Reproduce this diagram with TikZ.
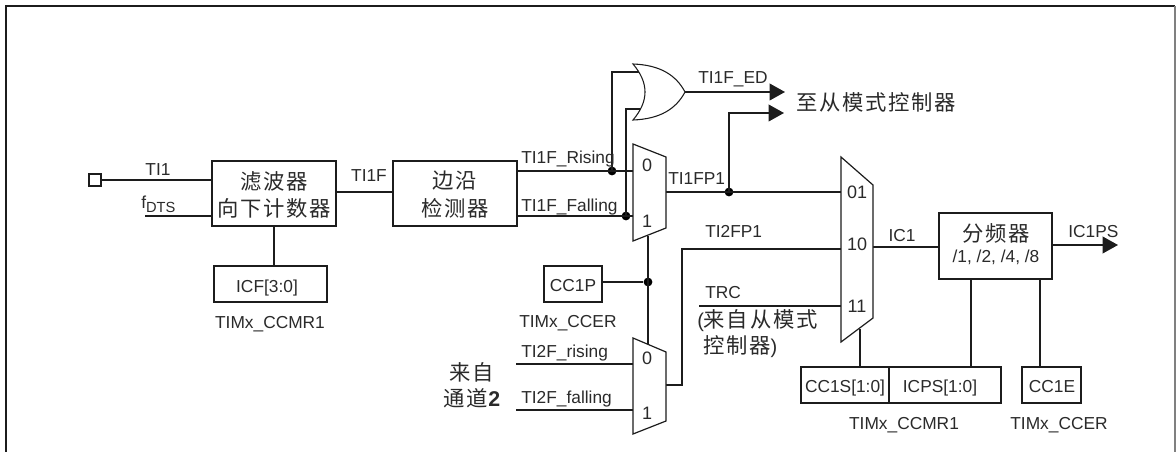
\documentclass[tikz,border=0pt]{standalone}
\usepackage{fontspec}
\setmainfont{Liberation Sans}
\newfontfamily\cjk[LetterSpace=8]{Noto Sans CJK SC}
\usetikzlibrary{arrows.meta}
\definecolor{ink}{HTML}{1C1C1C}
\definecolor{txt}{HTML}{2A2A2A}
\newcommand{\zh}[1]{{\cjk\fontsize{16}{18}\selectfont #1}}
\tikzset{
  wire/.style={draw=ink,line width=1.2pt},
  thin wire/.style={draw=ink,line width=0.8pt},
  out arrow/.style={draw=ink,line width=1.2pt,-{Triangle[length=11.5pt,width=12.5pt]}},
  blockbox/.style={draw=ink,line width=1.3pt,fill=white,inner sep=0pt,text=txt,align=center},
  lab/.style={inner sep=0pt,text=txt,font=\fontsize{13}{15}\selectfont,anchor=base west},
  clab/.style={inner sep=0pt,text=txt,font=\fontsize{13}{15}\selectfont,anchor=base},
  zhlab/.style={inner sep=0pt,text=txt,anchor=center},
  muxdigit/.style={inner sep=0pt,text=txt,font=\fontsize{13.5}{15}\selectfont,anchor=center},
  junction/.style={circle,fill=black,inner sep=0pt,minimum size=6.6pt},
  muxshape/.style={draw=ink,line width=0.9pt,fill=white}
}
\begin{document}
\begin{tikzpicture}[x=0.75pt,y=-0.75pt]
\useasboundingbox (0,0) rectangle (1176,452);
% frame
\draw[draw=ink,line width=1.5pt] (6,452) -- (6,6) -- (1175,6);
\draw[draw=gray,line width=1pt] (1175,6) -- (1175,452);

% blocks
\node[blockbox,minimum width=93pt,minimum height=48.75pt] (filter) at (274,193.5) {};
\node[zhlab] (filterA) at (274,181) {\zh{滤波器}};
\node[zhlab] (filterB) at (274,208) {\zh{向下计数器}};
\node[blockbox,minimum width=93pt,minimum height=48.75pt] (edge) at (455,193.5) {};
\node[zhlab] (edgeA) at (455,181) {\zh{边沿}};
\node[zhlab] (edgeB) at (455,208) {\zh{检测器}};
\node[blockbox,minimum width=84.75pt,minimum height=27pt] (icf) at (270.5,284) {};
\node[clab] (icfT) at (267,292) {ICF[3:0]};
\node[draw=ink,line width=1.1pt,inner sep=0pt,minimum size=9pt] (pin) at (95,180) {};
\node[blockbox,minimum width=43.5pt,minimum height=27pt] (cc1p) at (573,284) {};
\node[clab] (cc1pT) at (573,291) {CC1P};
\node[blockbox,minimum width=84.75pt,minimum height=49.5pt] (presc) at (995.5,246) {};
\node[zhlab] (prescA) at (996,233) {\zh{分频器}};
\node[clab] (prescB) at (996,262) {/1, /2, /4, /8};
\node[blockbox,minimum width=66pt,minimum height=27pt] (cc1s) at (845,385) {};
\node[clab] (cc1sT) at (845,392) {CC1S[1:0]};
\node[blockbox,minimum width=84pt,minimum height=27pt] (icps) at (945,385) {};
\node[clab] (icpsT) at (940,392) {ICPS[1:0]};
\node[blockbox,minimum width=44.25pt,minimum height=27pt] (cc1e) at (1051.5,385) {};
\node[clab] (cc1eT) at (1052,392) {CC1E};

% named points
\coordinate (risingEnd) at (633,171);
\coordinate (fallingEnd) at (633,216);
\coordinate (m1out) at (666,192);
\coordinate (m2out) at (666,385);
\coordinate (m1bot) at (648,236);
\coordinate (m2top) at (648,344);
\coordinate (ma01) at (841,192);
\coordinate (ma10) at (841,249);
\coordinate (ma11) at (841,306);
\coordinate (maout) at (873,247);
\coordinate (mabot) at (860,329);
\coordinate (fdts) at (145,216);
\coordinate (trcstart) at (699,306);
\coordinate (r2start) at (516,364);
\coordinate (f2start) at (516,410);
\coordinate (r2end) at (633,364);
\coordinate (f2end) at (633,410);
\coordinate (orA) at (640,72);
\coordinate (orB) at (643,109);
\coordinate (orOut) at (685,92);
\coordinate (edArrow) at (785,92);
\coordinate (slArrow) at (784,113);
\coordinate (psArrow) at (1118,245);
\node[junction] (jr) at (612,171) {};
\node[junction] (jf) at (626,216) {};
\node[junction] (jo) at (729,192) {};
\node[junction] (jp) at (648,282) {};

% wires
\draw[wire] (pin.east) -- (filter.west |- pin.east);
\draw[wire] (fdts) -- (fdts -| filter.west);
\draw[wire] (filter.east |- 0,192) -- (edge.west |- 0,192);
\draw[wire] (filter.south) -- (filter.south |- icf.north);
\draw[wire] (edge.east |- risingEnd) -- (risingEnd);
\draw[wire] (edge.east |- fallingEnd) -- (fallingEnd);
\draw[wire] (jr.center) -- (jr.center |- orA) -- (orA);
\draw[wire] (jf.center) -- (jf.center |- orB) -- (orB);
\draw[out arrow] (orOut) -- (edArrow);
\draw[out arrow] (jo.center) -- (jo.center |- slArrow) -- (slArrow);
\draw[wire] (m1out) -- (ma01);
\draw[wire] (m2out) -- (682,385) -- (682,249) -- (ma10);
\draw[wire] (trcstart) -- (ma11);
\draw[wire] (r2start) -- (r2end);
\draw[wire] (f2start) -- (f2end);
\draw[wire] (m1bot) -- (m2top);
\draw[wire] (cc1p.east |- jp) -- (jp);
\draw[wire] (maout) -- (maout -| presc.west);
\draw[out arrow] (presc.east |- psArrow) -- (psArrow);
\draw[wire] (mabot) -- (mabot |- cc1s.north);
\draw[wire] (971,279) -- (971,367);
\draw[wire] (1040,279) -- (1040,367);

% OR gate
\draw[draw=ink,line width=0.8pt,fill=white] (633,64) .. controls (660,65) and (676,75) .. (685,92)
  .. controls (676,109) and (660,119) .. (633,120)
  .. controls (649,101) and (649,83) .. (633,64) -- cycle;
% multiplexers
\draw[muxshape] (633,144) -- (666,157) -- (666,228) -- (633,241) -- cycle;
\draw[muxshape] (633,338) -- (666,352) -- (666,421) -- (633,434) -- cycle;
\draw[muxshape] (841,157) -- (873,185) -- (873,318) -- (841,342) -- cycle;
\node[muxdigit] (d10) at (647,165) {0};
\node[muxdigit] (d11) at (647,221) {1};
\node[muxdigit] (d20) at (647,358) {0};
\node[muxdigit] (d21) at (647,413) {1};
\node[muxdigit] (d01) at (857,192) {01};
\node[muxdigit] (d1x) at (857,244) {10};
\node[muxdigit] (d1y) at (857,306) {11};

% signal labels
\node[clab] (tTI1) at (158,176) {TI1};
\node[lab] (tfdts) at (141,209) {f\raisebox{-3pt}{\fontsize{11}{12}\selectfont DTS}};
\node[clab] (tTI1F) at (369,182) {TI1F};
\node[clab] (tCM1) at (270,328) {TIMx\_CCMR1};
\node[lab] (tRise) at (521,164) {TI1F\_Rising};
\node[lab] (tFall) at (521,211) {TI1F\_Falling};
\node[lab] (tED) at (698,84) {TI1F\_ED};
\node[lab] (tFP1) at (668,185) {TI1FP1};
\node[lab] (tFP2) at (705,237) {TI2FP1};
\node[lab] (tCER1) at (519,327) {TIMx\_CCER};
\node[lab] (tR2) at (521,357) {TI2F\_rising};
\node[lab] (tF2) at (521,403) {TI2F\_falling};
\node[lab] (tTRC) at (705,298) {TRC};
\node[clab] (tIC1) at (902,241) {IC1};
\node[lab] (tPS) at (1068,238) {IC1PS};
\node[clab] (tCM2) at (904,429) {TIMx\_CCMR1};
\node[clab] (tCER2) at (1059,429) {TIMx\_CCER};
\node[zhlab] (tSlave) at (876,102) {\zh{至从模式控制器}};
\node[zhlab,anchor=west] (tFromA) at (697,321) {{\fontsize{15}{18}\selectfont (}\zh{来自从模式}};
\node[zhlab,anchor=west] (tFromB) at (703,347) {\zh{控制器}{\fontsize{15}{18}\selectfont )}};
\node[zhlab] (tCh1) at (472,372) {\zh{来自}};
\node[zhlab] (tCh2) at (472,398) {\zh{通道}{\fontsize{16}{18}\selectfont\bfseries 2}};
\end{tikzpicture}
\end{document}
